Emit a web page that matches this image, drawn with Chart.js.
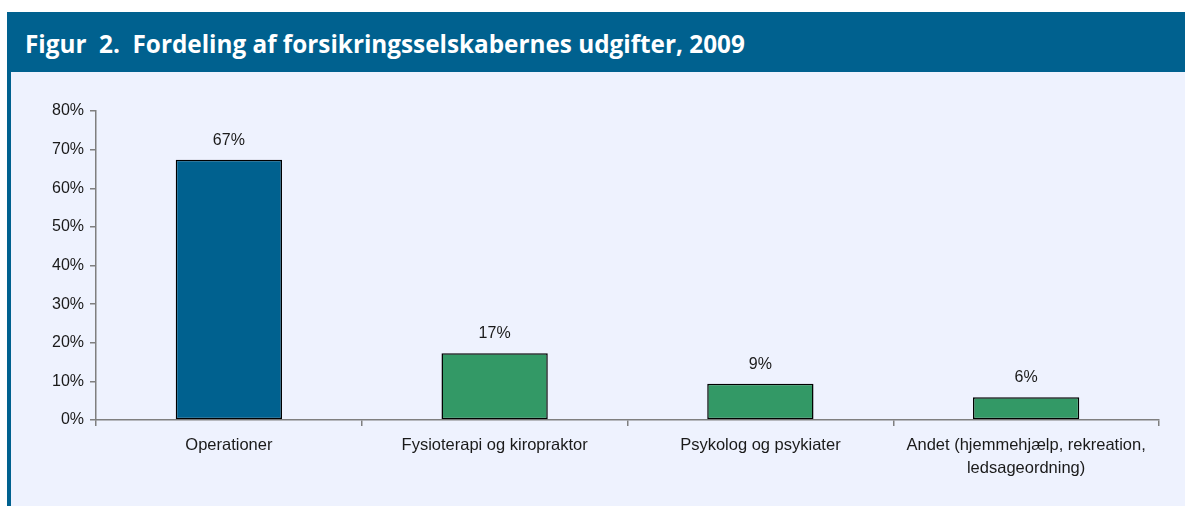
<!DOCTYPE html>
<html>
<head>
<meta charset="utf-8">
<script src="https://cdn.jsdelivr.net/npm/chart.js@4.4.1/dist/chart.umd.min.js"></script>
<style>
  html, body { margin: 0; padding: 0; background: #ffffff; }
  #frame { position: absolute; left: 7px; top: 12px; width: 1178px; height: 494px; background: #00618F; }
  #title { position: absolute; left: 18px; top: 1px; height: 60px; line-height: 60px; color: #ffffff;
           font-family: "Open Sans", "Lato", sans-serif; font-weight: bold; font-size: 25px; white-space: pre;
           transform-origin: 0 50%; }
  #panel { position: absolute; left: 4px; top: 60px; width: 1174px; height: 434px; background: #EEF2FE; }
  #wrap { position: absolute; left: 0; top: 0; width: 1174px; height: 434px; }
</style>
</head>
<body>
<div id="frame">
  <div id="title">Figur  2.  Fordeling af forsikringsselskabernes udgifter, 2009</div>
  <div id="panel"><div id="wrap"><canvas id="c"></canvas></div></div>
</div>
<script>
const categories = [
  "Operationer",
  "Fysioterapi og kiropraktor",
  "Psykolog og psykiater",
  ["Andet (hjemmehjælp, rekreation,", "ledsageordning)"]
];
const values = [67.4, 17.3, 9.4, 5.9];
const barColors = ["#00618F", "#339966", "#339966", "#339966"];
const yTicks = [0, 10, 20, 30, 40, 50, 60, 70, 80];

// fit title width like the reference
(function(){
  const t = document.getElementById('title');
  const w = t.scrollWidth;
  const target = 720;
  t.style.transform = 'scaleX(' + (target / w) + ')';
})();

const dataLabels = {
  id: 'dataLabels',
  afterDatasetsDraw(chart) {
    const ctx = chart.ctx;
    const meta = chart.getDatasetMeta(0);
    ctx.save();
    ctx.font = '16px "Liberation Sans", Arial, sans-serif';
    ctx.fillStyle = '#1a1a1a';
    ctx.textAlign = 'center';
    ctx.textBaseline = 'alphabetic';
    meta.data.forEach((bar, i) => {
      ctx.fillText(Math.round(values[i]) + '%', bar.x, bar.y - 15);
    });
    ctx.restore();
  }
};

new Chart(document.getElementById('c'), {
  type: 'bar',
  data: {
    labels: categories,
    datasets: [{
      data: values,
      backgroundColor: barColors,
      borderColor: '#000000',
      borderWidth: 1.5,
      borderSkipped: false,
      categoryPercentage: 1,
      barPercentage: 0.4
    }]
  },
  options: {
    responsive: true,
    maintainAspectRatio: false,
    animation: false,
    layout: { padding: { top: 39, right: 26, left: 0, bottom: 0 } },
    plugins: { legend: { display: false }, tooltip: { enabled: false }, title: { display: false } },
    scales: {
      x: {
        grid: { drawOnChartArea: false, drawTicks: true, tickLength: 6, color: '#7f7f7f', lineWidth: 1.5, offset: true },
        border: { display: true, color: '#7f7f7f', width: 1.5 },
        ticks: { color: '#1a1a1a', font: { family: '"Liberation Sans", Arial, sans-serif', size: 16.5, lineHeight: 1.4 }, padding: 8, maxRotation: 0, autoSkip: false },
        afterFit(scale) { scale.height = 86; }
      },
      y: {
        min: 0, max: 80,
        afterBuildTicks(scale) { scale.ticks = yTicks.map(v => ({ value: v })); },
        grid: { drawOnChartArea: false, drawTicks: true, tickLength: 6, color: '#7f7f7f', lineWidth: 1.5 },
        border: { display: true, color: '#7f7f7f', width: 1.5 },
        ticks: { color: '#1a1a1a', font: { family: '"Liberation Sans", Arial, sans-serif', size: 16 }, padding: 6,
                 callback: v => v + '%' },
        afterFit(scale) { scale.width = 85; }
      }
    }
  },
  plugins: [dataLabels]
});
</script>
</body>
</html>
